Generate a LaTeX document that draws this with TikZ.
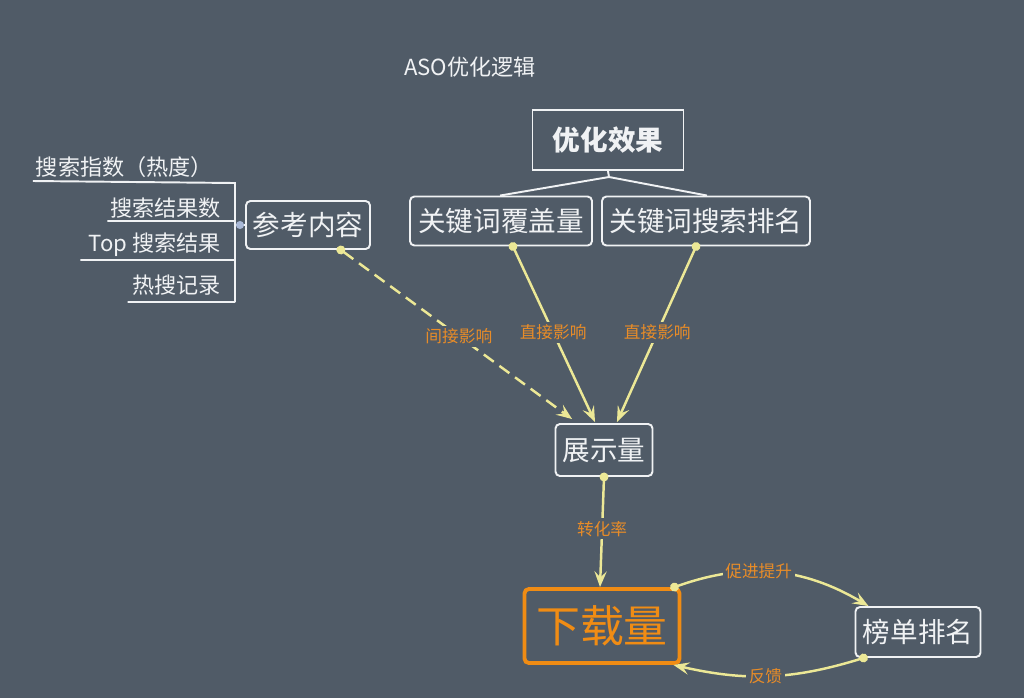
\documentclass[tikz,border=0pt]{standalone}
\usepackage{fontspec}
\setmainfont{Noto Sans CJK SC}
\usetikzlibrary{arrows.meta}

\definecolor{bgslate}{RGB}{80,91,103}
\definecolor{paleline}{RGB}{236,232,150}
\definecolor{lblorange}{RGB}{232,140,40}
\definecolor{dlorange}{RGB}{240,140,20}
\definecolor{boxwhite}{RGB}{240,242,244}
\definecolor{dotblue}{RGB}{170,185,215}

\def\pxu{0.5669pt} % one pixel of the layout grid

\begin{document}
\begin{tikzpicture}[
  x=0.02cm, y=-0.02cm,
  >={Stealth[length=9pt,width=7pt,inset=3.5pt]},
  box/.style    = {
    draw=boxwhite, rounded corners=2.5pt,
    line width=1.1pt, text=boxwhite,
    font=\fontsize{15.7}{18}\selectfont,
    inner sep=0pt, align=center
  },
  branch/.style = {
    text=boxwhite, inner sep=1.5pt, anchor=south east,
    font=\fontsize{12.6}{14}\selectfont
  },
  link/.style   = {
    draw=paleline, line width=1.4pt,
    {Circle[length=5pt]}->, shorten <=-2.5pt
  },
  effect/.style = {
    font=\fontsize{9.5}{11}\selectfont, text=lblorange,
    fill=bgslate, inner sep=1.5pt
  }
]

% ---- background ----
\fill[bgslate] (0,0) rectangle (1024,698);
\useasboundingbox (0,0) rectangle (1024,698);

% ---- title ----
\node[text=boxwhite, font=\fontsize{12.6}{14}\selectfont] (title) at (470,67) {ASO优化逻辑};

% ---- nodes ----
\node[box, rounded corners=0pt, minimum width=3.02cm, minimum height=1.2cm,
      font=\fontsize{15.7}{18}\bfseries\selectfont] (goal) at (608,140) {优化效果};
\node[box, minimum width=3.64cm, minimum height=0.98cm] (cover) at (501,221) {关键词覆盖量};
\node[box, minimum width=4.16cm, minimum height=0.98cm] (search) at (706,221) {关键词搜索排名};
\node[box, minimum width=2.48cm, minimum height=0.96cm] (ref) at (308,225) {参考内容};
\node[box, minimum width=1.94cm, minimum height=1.04cm] (show) at (604,450) {展示量};
\node[box, draw=dlorange, line width=2.2pt, text=dlorange,
      minimum width=3.1cm, minimum height=1.48cm,
      font=\fontsize{25}{28}\selectfont] (down) at (602,626) {下载量};
\node[box, minimum width=2.5cm, minimum height=1.0cm] (chart) at (918,632) {榜单排名};

% ---- left branches of ref ----
\coordinate (brtop) at (235,183);
\coordinate (brbot) at (235,302);
\coordinate (brmid) at (235,225);
\node[branch] (idx)  at (216,181) {搜索指数（热度）};
\node[branch] (num)  at (224,221) {搜索结果数};
\node[branch] (top)  at (224,260) {Top 搜索结果};
\node[branch] (hot)  at (224,298) {热搜记录};

\draw[boxwhite, line width=1.1pt]
  (idx.south west) -- (brtop) -- (brbot)
  (num.south west) -- (num.south west -| brtop)
  ([xshift=-3pt]top.south west) -- (top.south west -| brtop)
  ([xshift=-1pt]hot.south west |- brbot) -- (brbot);
\draw[boxwhite, line width=1.1pt] (brmid) -- (ref.west);
\fill[dotblue] ([xshift=5*\pxu]brmid) circle (2.3pt);

% ---- goal split ----
\coordinate (split) at (609,177);
\draw[boxwhite, line width=1.1pt] (goal.south) -- (split)
  (split) -- ([xshift=-1*\pxu]cover.north)
  (split) -- ([xshift=1*\pxu]search.north);

% ---- connectors ----
\draw[link, dashed, dash pattern=on 7pt off 4pt] ([xshift=33*\pxu]ref.south) --
  node[effect, pos=0.51] {间接影响}
  ([xshift=-32*\pxu, yshift=4*\pxu]show.north);

\draw[link] ([xshift=12*\pxu]cover.south) --
  node[effect, pos=0.49] {直接影响}
  ([xshift=-9*\pxu, yshift=1*\pxu]show.north);

\draw[link] ([xshift=-10*\pxu]search.south) --
  node[effect, pos=0.49] {直接影响}
  ([xshift=13*\pxu, yshift=1*\pxu]show.north);

\draw[link] (show.south) --
  node[effect, pos=0.47] {转化率}
  ([xshift=-2*\pxu]down.north);

\draw[link] ([xshift=-7*\pxu]down.north east) to[bend left=25]
  node[effect, pos=0.42] {促进提升}
  ([xshift=14*\pxu]chart.north west);

\draw[link] ([xshift=9*\pxu]chart.south west) to[bend left=15]
  node[effect, pos=0.52] {反馈}
  ([xshift=-8*\pxu]down.south east);

\end{tikzpicture}
\end{document}
